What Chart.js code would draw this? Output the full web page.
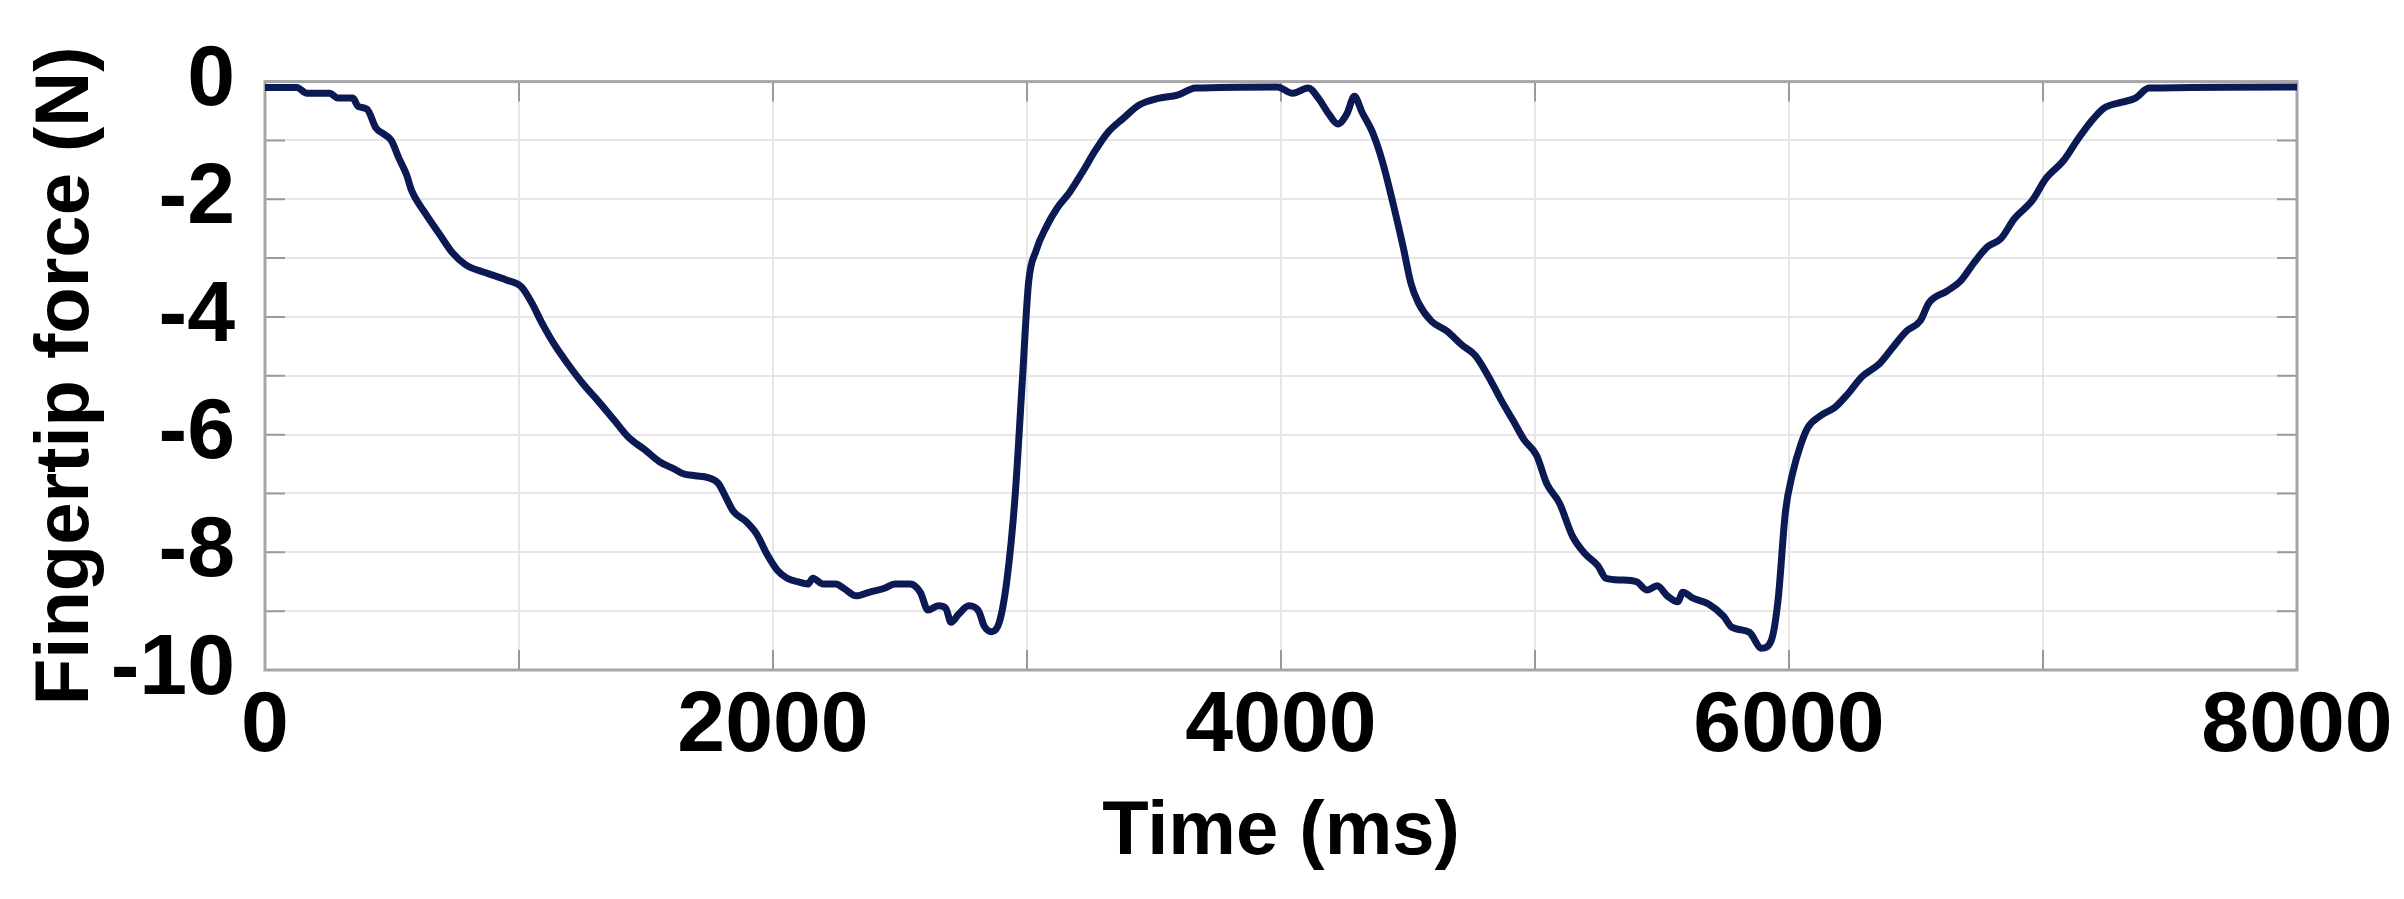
<!DOCTYPE html>
<html>
<head>
<meta charset="utf-8">
<script src="https://cdn.jsdelivr.net/npm/chart.js@4.4.1/dist/chart.umd.min.js"></script>
<style>
	html, body { margin: 0; padding: 0; background: #fff; }
	canvas { display: block; }
</style>
</head>
<body>
<canvas id="force-chart" width="2404" height="899"></canvas>
<script>
// time (ms) and fingertip force (N)
const timeMs = [
	0, 125, 165, 255, 286, 346, 366, 402, 437, 467, 497, 527, 557, 577, 628, 688, 738, 789, 869, 950,
	1010, 1050, 1090, 1141, 1191, 1251, 1312, 1372, 1432, 1493, 1553, 1614, 1644, 1694, 1744, 1785, 1815, 1845, 1895, 1936,
	1976, 2016, 2056, 2097, 2137, 2157, 2197, 2247, 2278, 2328, 2378, 2439, 2479, 2540, 2580, 2610, 2650, 2680, 2701, 2731,
	2771, 2811, 2831, 2861, 2891, 2921, 2952, 2982, 3006, 3036, 3077, 3117, 3168, 3218, 3269, 3319, 3380, 3440, 3521, 3592,
	3663, 3986, 4046, 4107, 4147, 4188, 4224, 4259, 4289, 4319, 4360, 4400, 4440, 4481, 4511, 4541, 4592, 4653, 4713, 4764,
	4814, 4865, 4915, 4956, 5006, 5046, 5097, 5147, 5198, 5248, 5279, 5339, 5400, 5440, 5481, 5521, 5562, 5582, 5622, 5683,
	5743, 5774, 5844, 5892, 5930, 5957, 5986, 6014, 6048, 6074, 6127, 6180, 6233, 6286, 6357, 6410, 6463, 6516, 6551, 6622,
	6675, 6728, 6781, 6834, 6887, 6958, 7011, 7081, 7134, 7187, 7240, 7311, 7364, 7417, 8000
];
const forceN = [
	-0.1, -0.1, -0.2, -0.2, -0.28, -0.28, -0.42, -0.47, -0.79, -0.89, -1.0, -1.3, -1.58, -1.85, -2.22, -2.6, -2.91, -3.11, -3.25, -3.37,
	-3.49, -3.76, -4.1, -4.48, -4.79, -5.13, -5.43, -5.74, -6.05, -6.25, -6.46, -6.59, -6.66, -6.7, -6.73, -6.83, -7.07, -7.31, -7.48, -7.69,
	-8.03, -8.3, -8.44, -8.5, -8.54, -8.44, -8.54, -8.54, -8.61, -8.74, -8.68, -8.61, -8.54, -8.54, -8.68, -8.98, -8.91, -8.95, -9.19, -9.05,
	-8.91, -9.01, -9.25, -9.35, -9.19, -8.47, -7.11, -5.06, -3.42, -2.87, -2.46, -2.16, -1.88, -1.54, -1.17, -0.86, -0.62, -0.4, -0.28, -0.23,
	-0.11, -0.09, -0.2, -0.11, -0.28, -0.55, -0.72, -0.55, -0.25, -0.52, -0.86, -1.37, -2.05, -2.81, -3.42, -3.76, -4.07, -4.24, -4.48, -4.65,
	-4.99, -5.4, -5.77, -6.08, -6.35, -6.83, -7.17, -7.72, -8.03, -8.23, -8.44, -8.47, -8.5, -8.64, -8.57, -8.74, -8.84, -8.68, -8.78, -8.88,
	-9.09, -9.27, -9.36, -9.63, -9.5, -8.81, -7.31, -6.66, -6.15, -5.88, -5.67, -5.54, -5.3, -5.02, -4.79, -4.51, -4.24, -4.07, -3.76, -3.56,
	-3.39, -3.08, -2.81, -2.67, -2.33, -2.02, -1.65, -1.34, -1.0, -0.69, -0.45, -0.35, -0.28, -0.11, -0.09
];
const xTickLabels = [0, 2000, 4000, 6000, 8000];
const yTickLabels = [0, -2, -4, -6, -8, -10];

const fontFamily = '"Liberation Sans", Arial, sans-serif';

// matlab-style box with short inward tick marks
const boxPlugin = {
	id: 'box',
	beforeDatasetsDraw(chart) {
		const { ctx, chartArea: a, scales } = chart;
		ctx.save();
		ctx.strokeStyle = '#9a9a9a';
		ctx.lineWidth = 2;
		scales.y.ticks.forEach((t) => {
			const py = scales.y.getPixelForValue(t.value);
			ctx.beginPath();
			ctx.moveTo(a.left, py); ctx.lineTo(a.left + 20, py);
			ctx.moveTo(a.right, py); ctx.lineTo(a.right - 20, py);
			ctx.stroke();
		});
		scales.x.ticks.forEach((t) => {
			const px = scales.x.getPixelForValue(t.value);
			ctx.beginPath();
			ctx.moveTo(px, a.bottom); ctx.lineTo(px, a.bottom - 20);
			ctx.moveTo(px, a.top); ctx.lineTo(px, a.top + 20);
			ctx.stroke();
		});
		ctx.strokeStyle = '#a6a6a6';
		ctx.lineWidth = 3;
		ctx.strokeRect(a.left, a.top, a.right - a.left, a.bottom - a.top);
		ctx.restore();
	}
};

new Chart(document.getElementById('force-chart'), {
	type: 'line',
	data: {
		datasets: [{
			data: timeMs.map((t, i) => ({ x: t, y: forceN[i] })),
			borderColor: '#0b1a52',
			borderWidth: 7,
			pointRadius: 0,
			cubicInterpolationMode: 'monotone',
			borderJoinStyle: 'round',
			borderCapStyle: 'round'
		}]
	},
	options: {
		responsive: false,
		animation: false,
		devicePixelRatio: 1,
		layout: { padding: { top: 56, right: 107, left: 0, bottom: 0 } },
		plugins: { legend: { display: false }, tooltip: { enabled: false } },
		scales: {
			x: {
				type: 'linear',
				min: 0,
				max: 8000,
				afterFit: (s) => { s.height = 229; },
				border: { display: false },
				grid: { color: '#e6e6e6', lineWidth: 2, drawTicks: false },
				ticks: {
					stepSize: 1000,
					autoSkip: false,
					maxRotation: 0,
					padding: 6,
					color: '#000',
					font: { family: fontFamily, size: 86, weight: 'bold', lineHeight: 1.2 },
					callback: (v) => (xTickLabels.includes(v) ? String(v) : '')
				},
				title: {
					display: true,
					text: 'Time (ms)',
					color: '#000',
					padding: { top: 0, bottom: 20 },
					font: { family: fontFamily, size: 76, weight: 'bold', lineHeight: 1.2 }
				}
			},
			y: {
				min: -10,
				max: 0,
				afterFit: (s) => { s.width = 265; },
				border: { display: false },
				grid: { color: '#e6e6e6', lineWidth: 2, drawTicks: false },
				ticks: {
					stepSize: 1,
					autoSkip: false,
					padding: 30,
					color: '#000',
					font: { family: fontFamily, size: 86, weight: 'bold', lineHeight: 1.2 },
					callback: (v) => (yTickLabels.includes(v) ? String(v) : '')
				},
				title: {
					display: true,
					text: 'Fingertip force (N)',
					color: '#000',
					padding: { top: 21, bottom: 0 },
					font: { family: fontFamily, size: 76, weight: 'bold', lineHeight: 1.2 }
				}
			}
		}
	},
	plugins: [boxPlugin]
});
</script>
</body>
</html>
